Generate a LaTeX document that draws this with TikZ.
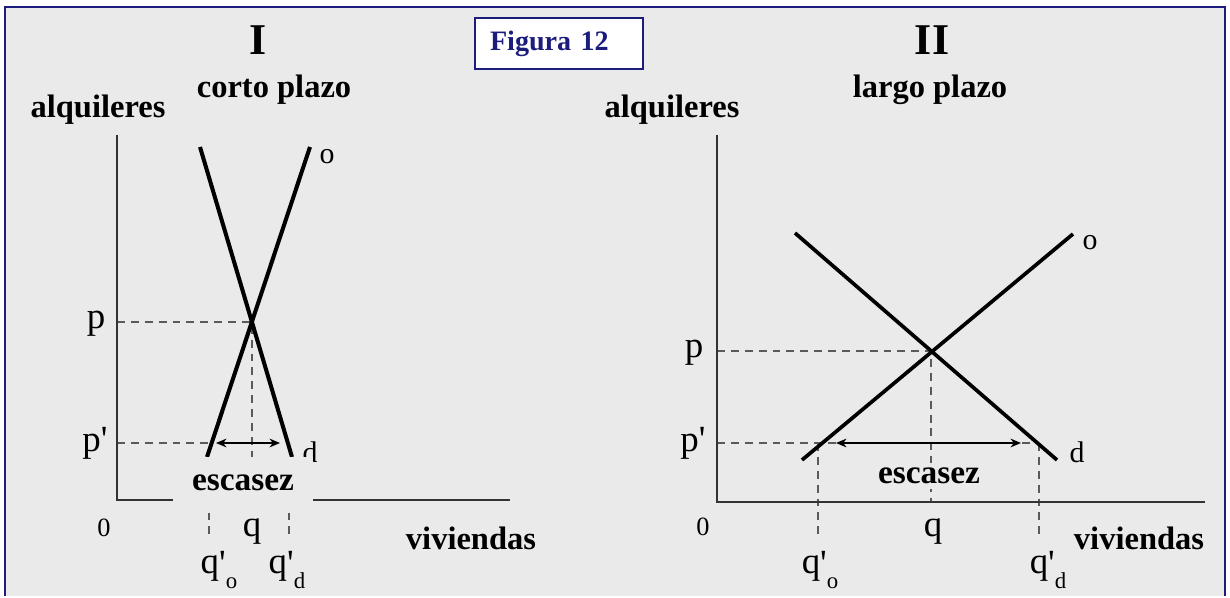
\documentclass[tikz,border=0pt]{standalone}
\usepackage{fontspec}
\setmainfont{Liberation Serif}
\newfontfamily\lblfont{Liberation Serif}[Ligatures=TeXOff]
\usetikzlibrary{arrows.meta, positioning}

\definecolor{panelgray}{HTML}{EAEAEA}
\definecolor{framenavy}{HTML}{1C1C7C}
\definecolor{axisgray}{HTML}{333333}
\definecolor{guidegray}{HTML}{5A5A5A}

% q with prime and subscript
\newcommand\qprime[1]{q\raisebox{-0.05em}{'}\raisebox{-0.42em}{\fontsize{13}{13}\selectfont #1}}

\begin{document}
\begin{tikzpicture}[
  x=0.02cm, y=-0.02cm,
  axis/.style={draw=axisgray, line width=0.9pt},
  curve/.style={draw=black, line width=2.3pt},
  guide/.style={draw=guidegray, line width=0.7pt, dash pattern=on 4.5pt off 3.4pt},
  shortage/.style={{Stealth[length=6pt,width=5pt]}-{Stealth[length=6pt,width=5pt]}, line width=0.8pt},
  title/.style={font=\fontsize{25}{25}\selectfont\bfseries},
  head/.style={font=\fontsize{18.5}{20}\selectfont\bfseries},
  tag/.style={font=\lblfont\fontsize{21}{21}\selectfont, inner sep=1pt},
  small tag/.style={font=\lblfont\fontsize{17}{17}\selectfont, inner sep=1pt},
  gap/.style={fill=panelgray, inner sep=3pt, font=\fontsize{19}{20}\selectfont\bfseries},
  figbox/.style={draw=framenavy, fill=white, line width=0.8pt, text=framenavy,
                 font=\fontsize{16}{18}\selectfont\bfseries, text width=2.76cm,
                 inner xsep=0.3cm, minimum height=1.02cm, align=left},
]

% ---- marco ----
\fill[white] (0,0) rectangle (1230,596);
\fill[panelgray] (5,7) rectangle (1225,596);
\draw[framenavy, line width=1.2pt] (5,596) -- (5,7) -- (1225,7) -- (1225,596);

\node[figbox] (fig) at (559,43.5) {Figura 12};

% ==== I: corto plazo ====
\coordinate (o1)   at (117,500);
\coordinate (y1)   at (117,135);
\coordinate (x1)   at (510,500);
\coordinate (e1)   at (252,322);
\coordinate (s1a)  at (207,457);
\coordinate (s1b)  at (310,147);
\coordinate (d1a)  at (200,147);
\coordinate (d1b)  at (292,457);
\coordinate (p1)   at (117,322);
\coordinate (pp1)  at (117,443);
\coordinate (pq1)  at (212,443);
\coordinate (q1)   at (252,500);
\coordinate (a1l)  at (216,443);
\coordinate (a1r)  at (280,443);

\draw[guide] (p1) -- (e1) -- (q1);
\draw[guide] (pp1) -- (pq1);
\foreach \x in {209,289}
  \draw[guide] (\x,457) -- (\x,540);
\draw[curve] (s1a) -- (s1b);
\draw[curve] (d1a) -- (d1b);
\draw[axis] (y1) -- (o1) -- (x1);
\draw[shortage] (a1l) -- (a1r);

\node[small tag] (d1) at (310,452) {d};
\node[gap, minimum width=2.8cm, minimum height=1.06cm] (esc1) at (243,483) {escasez};

\node[title] (t1)   at (258,40)  {I};
\node[head]  (cp)   at (274,90)  {corto plazo};
\node[head]  (al1)  at (98,110)  {alquileres};
\node[small tag] (o1l) at (327,157) {o};
\node[tag]   (p1l)  at (96,324)  {p};
\node[tag]   (pp1l) at (95,443)  {p'};
\node[tag, font=\lblfont\fontsize{15}{15}\selectfont] (z1) at (104,528) {0};
\node[tag]   (q1l)  at (252,532) {q};
\node[tag]   (qo1)  at (219,570) {\qprime{o}};
\node[tag]   (qd1)  at (287,570) {\qprime{d}};
\node[head]  (v1)   at (471,538) {viviendas};

% ==== II: largo plazo ====
\coordinate (o2)   at (717,502);
\coordinate (y2)   at (717,135);
\coordinate (x2)   at (1205,502);
\coordinate (e2)   at (931,351);
\coordinate (s2a)  at (802,460);
\coordinate (s2b)  at (1073,234);
\coordinate (d2a)  at (795,233);
\coordinate (d2b)  at (1057,460);
\coordinate (p2)   at (717,351);
\coordinate (pp2)  at (717,443);
\coordinate (pd2)  at (1039,443);
\coordinate (q2)   at (931,502);
\coordinate (a2l)  at (836,443);
\coordinate (a2r)  at (1021,443);

\draw[guide] (p2) -- (e2) -- (q2);
\draw[guide] (pp2) -- (pd2);
\foreach \x in {818,1039}
  \draw[guide] (\x,443) -- (\x,540);
\draw[curve, line width=2.1pt] (s2a) -- (s2b);
\draw[curve, line width=2.1pt] (d2a) -- (d2b);
\draw[axis] (y2) -- (o2) -- (x2);
\draw[shortage] (a2l) -- (a2r);

\node[gap] (esc2) at (929,476) {escasez};

\node[title] (t2)   at (932,40)  {II};
\node[head]  (lp)   at (930,90)  {largo plazo};
\node[head]  (al2)  at (672,110) {alquileres};
\node[small tag] (o2l) at (1090,243) {o};
\node[small tag] (d2) at (1077,452) {d};
\node[tag]   (p2l)  at (694,353) {p};
\node[tag]   (pp2l) at (693,443) {p'};
\node[tag, font=\lblfont\fontsize{15}{15}\selectfont] (z2) at (703,527) {0};
\node[tag]   (q2l)  at (933,532) {q};
\node[tag]   (qo2)  at (820,570) {\qprime{o}};
\node[tag]   (qd2)  at (1048,570) {\qprime{d}};
\node[head]  (v2)   at (1139,538) {viviendas};

\end{tikzpicture}
\end{document}
